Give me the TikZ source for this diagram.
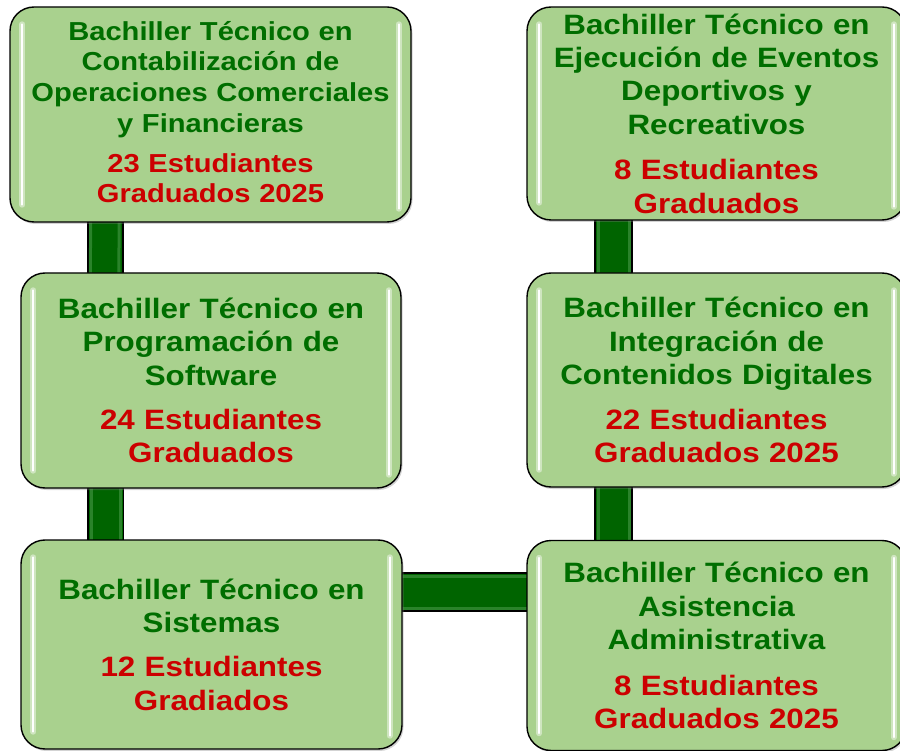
\documentclass[tikz,border=0pt]{standalone}
\usepackage{fontspec}
\setmainfont{Liberation Sans}[FakeStretch=1.12]
\usetikzlibrary{shadows,backgrounds,calc}
\definecolor{boxfill}{RGB}{169,209,142}
\definecolor{txtgreen}{RGB}{0,110,0}
\definecolor{txtred}{RGB}{204,0,0}
\definecolor{condark}{RGB}{0,100,0}
\definecolor{conmid}{RGB}{60,145,60}
\tikzset{
  card/.style={draw=black, line width=1.4pt, fill=boxfill, rounded corners=24pt,
    drop shadow={shadow xshift=1.5pt, shadow yshift=-2pt, opacity=0.35},
    align=center, text=txtgreen, inner sep=0pt},
  small/.style={font=\bfseries\fontsize{26}{30.7}\selectfont},
  big/.style={font=\bfseries\fontsize{28}{33.4}\selectfont},
  conn/.style={draw=black, line width=1.3pt, fill=condark},
  connedge/.style={conmid, line width=3pt, opacity=0.7},
  gloss/.style={white, line width=2pt, line cap=round},
  glosshalo/.style={white, opacity=0.45, line width=6pt, line cap=round},
}
\begin{document}
\begin{tikzpicture}[x=1pt,y=-1pt]
\useasboundingbox (0,0) rectangle (900,751);
\node[card, small, minimum width=401pt, minimum height=215pt, text width=399pt] (b1) at (210.5,114.5)
 {Bachiller Técnico en\\Contabilización de\\Operaciones Comerciales\\y Financieras\\[9pt]\color{txtred}23 Estudiantes\\Graduados 2025\\[-25.7pt]\mbox{}};
\node[card, big, minimum width=380pt, minimum height=215pt, text width=378pt] (b2) at (211,380.5)
 {Bachiller Técnico en\\Programación de\\Software\\[11pt]\color{txtred}24 Estudiantes\\Graduados};
\node[card, big, minimum width=381pt, minimum height=209pt, text width=379pt] (b3) at (211.5,644.5)
 {Bachiller Técnico en\\Sistemas\\[11pt]\color{txtred}12 Estudiantes\\Gradiados};
\node[card, big, minimum width=379pt, minimum height=213pt, text width=377pt] (b4) at (716.5,113.5)
 {Bachiller Técnico en\\Ejecución de Eventos\\Deportivos y\\Recreativos\\[12pt]\color{txtred}8 Estudiantes\\Graduados};
\node[card, big, minimum width=379pt, minimum height=214pt, text width=377pt] (b5) at (716.5,380)
 {Bachiller Técnico en\\Integración de\\Contenidos Digitales\\[11pt]\color{txtred}22 Estudiantes\\Graduados 2025};
\node[card, big, minimum width=379pt, minimum height=210pt, text width=377pt] (b6) at (716.5,645.5)
 {Bachiller Técnico en\\Asistencia\\Administrativa\\[12pt]\color{txtred}8 Estudiantes\\Graduados 2025};
% gloss highlights
\foreach \b in {b1,b2,b3,b4,b5,b6}{
  \draw[glosshalo] ([xshift=13pt,yshift=-18pt]\b.north west) -- ([xshift=13pt,yshift=18pt]\b.south west);
  \draw[gloss] ([xshift=13pt,yshift=-18pt]\b.north west) -- ([xshift=13pt,yshift=18pt]\b.south west);
  \draw[glosshalo] ([xshift=-13pt,yshift=-18pt]\b.north east) -- ([xshift=-13pt,yshift=14pt]\b.south east);
  \draw[gloss] ([xshift=-13pt,yshift=-18pt]\b.north east) -- ([xshift=-13pt,yshift=14pt]\b.south east);
}
\begin{pgfonlayer}{background}
  \draw[conn] ([xshift=-122.5pt]b1.center) rectangle ([xshift=-88pt]b2.center);
  \draw[connedge] ([xshift=-119.5pt]b1.center) -- ([xshift=-121pt]b2.center);
  \draw[connedge] ([xshift=-91pt]b1.center) -- ([xshift=-92.5pt]b2.center);
  \draw[conn] ([xshift=-123pt]b2.center) rectangle ([xshift=-88pt]b3.center);
  \draw[connedge] ([xshift=-120pt]b2.center) -- ([xshift=-120.5pt]b3.center);
  \draw[connedge] ([xshift=-91pt]b2.center) -- ([xshift=-91.5pt]b3.center);
  \draw[conn] ([xshift=-121.5pt]b4.center) rectangle ([xshift=-84.5pt]b5.center);
  \draw[connedge] ([xshift=-118.5pt]b4.center) -- ([xshift=-118.5pt]b5.center);
  \draw[connedge] ([xshift=-87.5pt]b4.center) -- ([xshift=-87.5pt]b5.center);
  \draw[conn] ([xshift=-121.5pt]b5.center) rectangle ([xshift=-84.5pt]b6.center);
  \draw[connedge] ([xshift=-118.5pt]b5.center) -- ([xshift=-118.5pt]b6.center);
  \draw[connedge] ([xshift=-87.5pt]b5.center) -- ([xshift=-87.5pt]b6.center);
  \draw[conn] ([yshift=71.5pt]b3.center) rectangle ([yshift=34.5pt]b6.center);
  \draw[connedge] ([yshift=68.5pt]b3.center) -- ([yshift=69.5pt]b6.center);
  \draw[connedge] ([yshift=36.5pt]b3.center) -- ([yshift=37.5pt]b6.center);
\end{pgfonlayer}
\end{tikzpicture}
\end{document}
